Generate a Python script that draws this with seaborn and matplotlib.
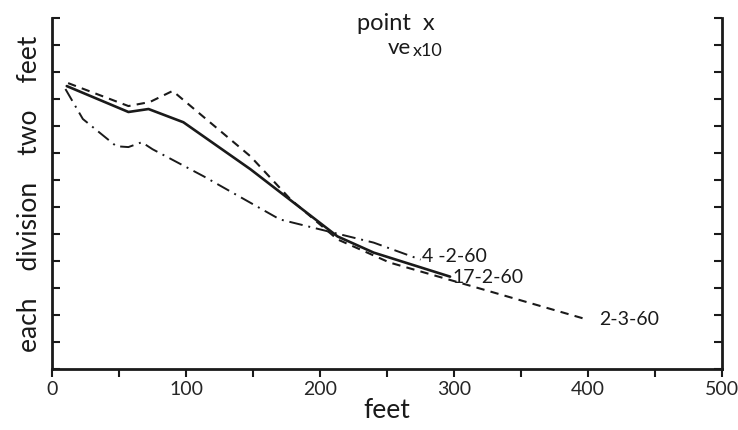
import matplotlib
matplotlib.use("Agg")
import matplotlib.pyplot as plt
import seaborn as sns
import pandas as pd

# --- data ---
x_17_2_60 = [11, 57, 72, 98, 148, 213, 240, 297]
y_17_2_60 = [10.48, 9.52, 9.63, 9.14, 7.40, 4.91, 4.31, 3.42]

x_2_3_60 = [12, 57, 73, 90, 148, 178, 213, 252, 322, 400]
y_2_3_60 = [10.59, 9.74, 9.89, 10.30, 7.88, 6.28, 4.80, 3.94, 2.94, 1.82]

x_4_2_60 = [10, 23, 48, 57, 67, 75, 113, 170, 200, 240, 275]
y_4_2_60 = [10.37, 9.26, 8.25, 8.22, 8.40, 8.14, 7.14, 5.54, 5.17, 4.68, 4.05]

series_labels = ["17-2-60", "2-3-60", "4-2-60"]
label_text = ["17-2-60", "2-3-60", "4 -2-60"]
x_ticks = [0, 100, 200, 300, 400, 500]

sns.set_style("white")
plt.rcParams["font.family"] = ["Lato", "DejaVu Sans"]

fig = plt.figure(figsize=(7.38, 4.30), dpi=100)
ax = fig.add_axes([0.0705, 0.142, 0.908, 0.816])

styles = {
    "17-2-60": dict(linestyle="-", lw=1.9),
    "2-3-60": dict(linestyle=(0, (4, 3)), lw=1.5),
    "4-2-60": dict(linestyle=(0, (7, 3, 1, 3)), lw=1.4),
}
data = {
    "17-2-60": (x_17_2_60, y_17_2_60),
    "2-3-60": (x_2_3_60, y_2_3_60),
    "4-2-60": (x_4_2_60, y_4_2_60),
}
for name in series_labels:
    xs, ys = data[name]
    df = pd.DataFrame({"x": xs, "y": ys})
    sns.lineplot(data=df, x="x", y="y", ax=ax, sort=False, color="#1a1a1a",
                 estimator=None, **styles[name])

tc = "#1a1a1a"
# end labels
ax.text(x_4_2_60[-1] + 1, y_4_2_60[-1] + 0.1, label_text[2], fontsize=14, va="center", ha="left", color=tc)
ax.text(x_17_2_60[-1] + 2, y_17_2_60[-1] - 0.05, label_text[0], fontsize=14, va="center", ha="left", color=tc)
ax.text(x_2_3_60[-1] + 8, y_2_3_60[-1], label_text[1], fontsize=14, va="center", ha="left", color=tc)

ax.set_xlim(0, 500)
ax.set_ylim(0, 13)
ax.set_xticks(range(0, 501, 50))
ax.set_xticklabels([str(v) if v in x_ticks else "" for v in range(0, 501, 50)], fontsize=14)
ax.set_yticks(range(0, 14))
ax.set_yticklabels([])

ax.tick_params(axis="x", direction="out", length=6, width=1.5, color=tc, pad=3, bottom=True)
ax.tick_params(axis="y", direction="in", length=6, width=1.5, color=tc, left=True, right=True)

for side in ["left", "right", "bottom"]:
    ax.spines[side].set_visible(True)
    ax.spines[side].set_color(tc)
    ax.spines[side].set_linewidth(2)
ax.spines["top"].set_visible(False)

ax.set_xlabel("feet", fontsize=19, color=tc, labelpad=0)
ax.set_ylabel("each    division    two    feet", fontsize=19, color=tc, labelpad=4)

fig.text(0.537, 0.945, "point  x", fontsize=17, ha="center", va="center", color=tc)
fig.text(0.557, 0.888, "ve", fontsize=16, ha="right", va="center", color=tc)
fig.text(0.56, 0.882, "x10", fontsize=13, ha="left", va="center", color=tc)

fig.savefig("out.png", dpi=100)
